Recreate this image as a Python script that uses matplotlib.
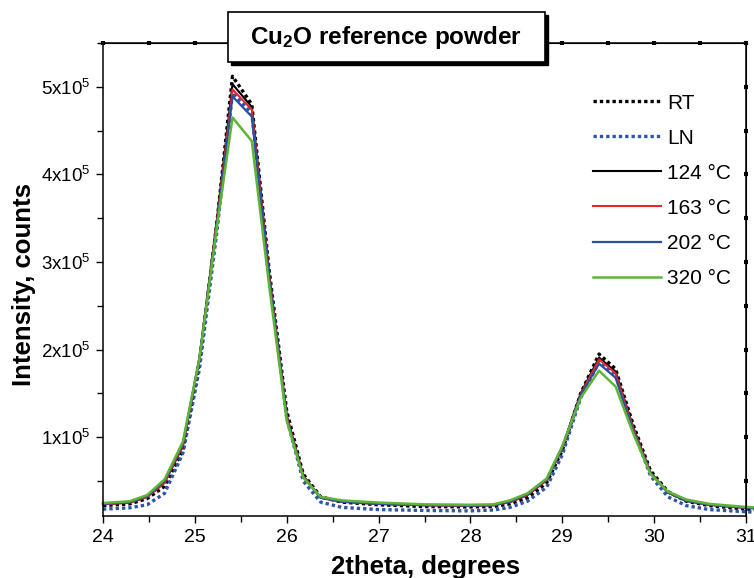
import matplotlib
matplotlib.use("Agg")
import matplotlib.pyplot as plt
from matplotlib.patches import Rectangle
from matplotlib.ticker import MultipleLocator, FuncFormatter

plt.rcParams["font.family"] = ["Liberation Sans", "DejaVu Sans"]
plt.rcParams["mathtext.fontset"] = "custom"
plt.rcParams["mathtext.rm"] = "Liberation Sans"
plt.rcParams["mathtext.bf"] = "Liberation Sans:bold"
plt.rcParams["mathtext.default"] = "regular"

# 2theta positions (degrees)
two_theta = [24.0, 24.29, 24.48, 24.67, 24.87, 25.05, 25.24, 25.41, 25.62, 25.81,
             26.0, 26.18, 26.37, 26.6, 27.0, 27.5, 28.0, 28.25, 28.43, 28.62,
             28.83, 29.0, 29.2, 29.4, 29.58, 29.77, 29.96, 30.15, 30.35, 30.6,
             31.0, 31.1]

rt = [22000, 24000, 30000, 44000, 85000, 185000, 345000, 512000, 480000, 290000,
      130000, 58000, 32000, 26000, 23000, 21000, 20500, 21000, 24000, 31000,
      48000, 85000, 150000, 195000, 178000, 115000, 62000, 38000, 27000, 22000,
      18000, 17500]
ln = [18000, 19500, 23000, 36000, 82000, 178000, 335000, 493000, 470000, 285000,
      122000, 50000, 26000, 20000, 17500, 16500, 16000, 17000, 20000, 27000,
      43000, 80000, 145000, 186000, 172000, 110000, 56000, 32000, 22000, 17500,
      15000, 14500]
t124 = [23500, 25500, 32000, 48000, 90000, 190000, 348000, 503000, 477000, 285000,
        125000, 56000, 31000, 26500, 24000, 22500, 22000, 22500, 26000, 34000,
        51000, 88000, 150000, 191000, 175000, 112000, 60000, 37000, 27500, 23000,
        19500, 19000]
t163 = [23500, 25500, 32000, 48000, 91000, 190000, 346000, 497000, 474000, 283000,
        124000, 56000, 31000, 26500, 24000, 22500, 22000, 22500, 26000, 34000,
        51000, 88000, 149000, 189000, 173000, 111000, 60000, 37000, 27500, 23000,
        19500, 19000]
t202 = [24000, 26000, 33000, 50000, 93000, 191000, 343000, 489000, 466000, 280000,
        122000, 55000, 31000, 26500, 24000, 22500, 22000, 22500, 26500, 35000,
        52000, 89000, 148000, 184000, 168000, 108000, 59000, 37000, 27500, 23000,
        19500, 19000]
t320 = [25000, 27000, 34000, 52000, 95000, 190000, 340000, 465000, 438000, 272000,
        119000, 54000, 32000, 28000, 25500, 23500, 23000, 23500, 28000, 36000,
        53000, 90000, 145000, 176000, 158000, 105000, 58000, 38000, 29000, 24000,
        20500, 20000]

series = [
    ("RT", rt, "black", (0, (1, 0.9)), 2.4),
    ("LN", ln, "#2f55a8", (0, (1, 0.9)), 2.4),
    ("124 °C", t124, "black", "-", 1.5),
    ("163 °C", t163, "#e8262a", "-", 1.5),
    ("202 °C", t202, "#2b4fa0", "-", 1.6),
    ("320 °C", t320, "#5db533", "-", 1.8),
]

fig = plt.figure(figsize=(7.54, 5.78), dpi=100)
ax = fig.add_axes([0.1366, 0.107, 0.8528, 0.8186])

for label, vals, color, ls, lw in series:
    ax.plot(two_theta, vals, color=color, linestyle=ls, linewidth=lw,
            label=label, clip_on=False)

ax.set_xlim(24, 31)
ax.set_ylim(1e4, 5.5e5)

ax.xaxis.set_major_locator(MultipleLocator(1))
ax.xaxis.set_minor_locator(MultipleLocator(0.5))
ax.yaxis.set_major_locator(MultipleLocator(1e5))
ax.yaxis.set_minor_locator(MultipleLocator(0.5e5))
ax.yaxis.set_major_formatter(FuncFormatter(
    lambda v, p: "" if v < 1 else f"{int(round(v / 1e5))}x10$^5$"))
ax.tick_params(which="major", direction="out", length=5, width=1)
ax.tick_params(which="minor", direction="out", length=4, width=1)
ax.tick_params(axis="y", pad=4, labelsize=13.5)
ax.tick_params(axis="x", pad=4, labelsize=14)

for sp in ax.spines.values():
    sp.set_linewidth(1.1)

# top/right axes with square tick markers
top = ax.secondary_xaxis("top")
top.xaxis.set_major_locator(MultipleLocator(0.5))
top.tick_params(direction="inout", length=3, width=3, labeltop=False)
right = ax.secondary_yaxis("right")
right.yaxis.set_major_locator(MultipleLocator(0.5e5))
right.tick_params(direction="inout", length=3, width=3, labelright=False)

ax.set_xlabel("2theta, degrees", fontsize=18.5, fontweight="bold", va="top")
ax.xaxis.set_label_coords(0.502, -0.083)
ax.set_ylabel("Intensity, counts", fontsize=18.5, fontweight="bold")
ax.yaxis.set_label_coords(-0.104, 0.49)

leg = ax.legend(loc="upper left", bbox_to_anchor=(0.762, 0.893), frameon=False,
                fontsize=15, handlelength=3.27, labelspacing=0.77,
                handletextpad=0.3, borderpad=0, borderaxespad=0)

# title box with drop shadow
bx, by, bw, bh = 0.3024, 0.8927, 0.4204, 0.0865
fig.patches.append(Rectangle((bx + 0.004, by - 0.0052), bw, bh,
                             transform=fig.transFigure, facecolor="black",
                             edgecolor="black", zorder=5))
fig.patches.append(Rectangle((bx, by), bw, bh, transform=fig.transFigure,
                             facecolor="white", edgecolor="black",
                             linewidth=1.2, zorder=6))
fig.text(bx + bw / 2, by + bh / 2, r"$\mathbf{Cu_2O}$ reference powder",
         ha="center", va="center", fontsize=17.5, fontweight="bold", zorder=7)

fig.savefig("out.png", dpi=100)
